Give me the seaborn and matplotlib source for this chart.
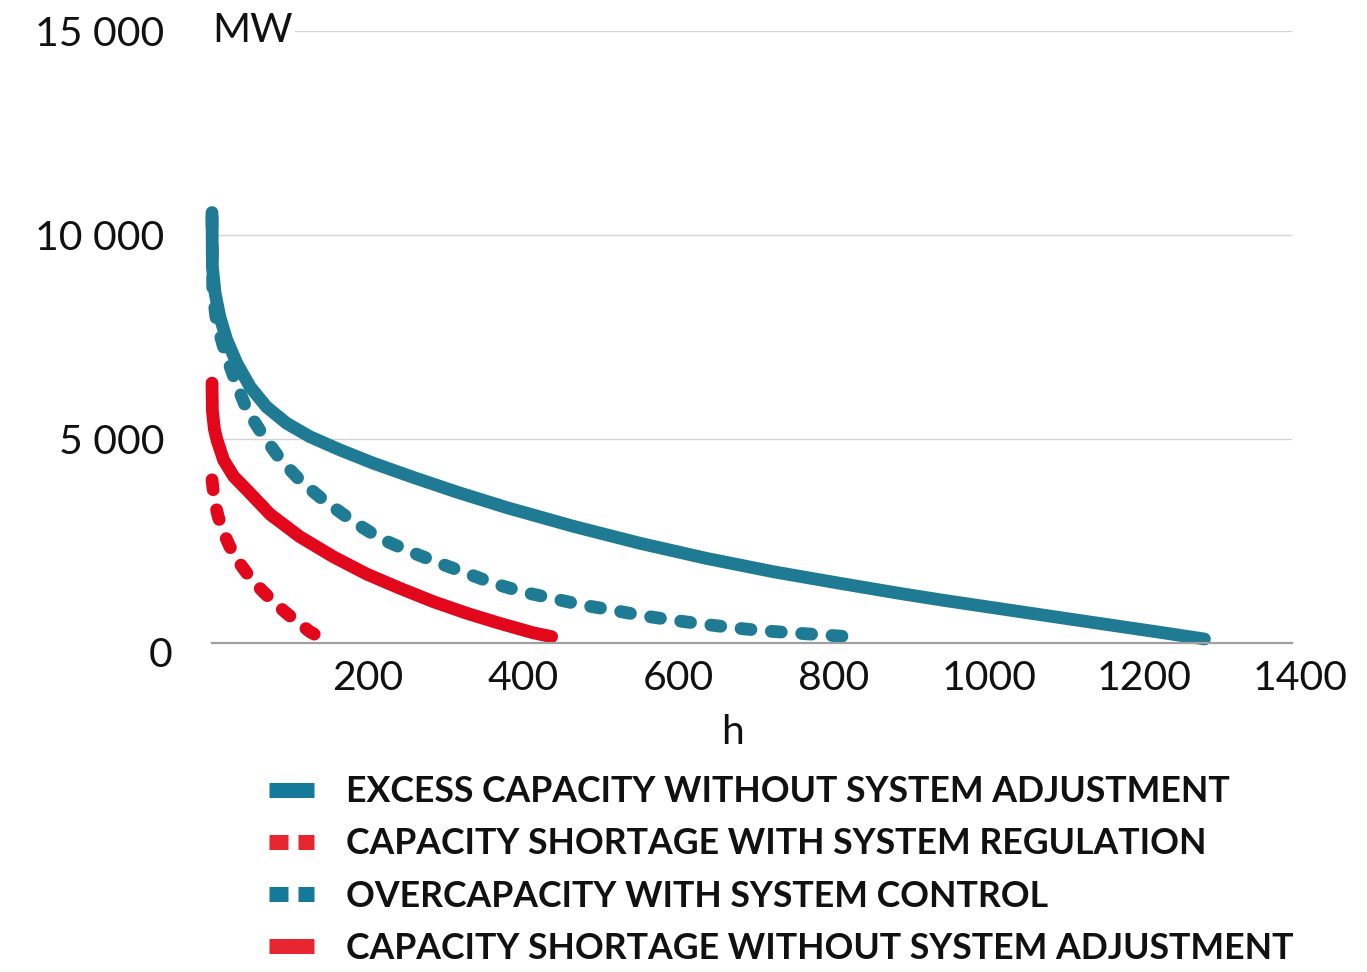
import numpy as np
import pandas as pd
import seaborn as sns
import matplotlib
matplotlib.use("Agg")
import matplotlib.pyplot as plt
from matplotlib.lines import Line2D
from matplotlib.transforms import ScaledTranslation

# Duration curves: hours per year vs. capacity (MW)
excess_no_adj_h = [0, 0.5, 4, 10, 19, 32, 49, 70, 96, 126, 165, 208, 259, 315, 379,
                   465, 551, 636, 722, 808, 885, 940, 1000, 1078, 1142, 1210, 1277]
excess_no_adj_mw = [10550, 9220, 8570, 8000, 7430, 6855, 6280, 5790, 5385, 5056, 4730,
                    4404, 4060, 3700, 3320, 2860, 2443, 2075, 1748, 1463, 1215, 1050,
                    880, 660, 480, 290, 98]

shortage_reg_h = [0, 3, 8, 15, 23, 33, 45, 56, 68, 82, 96, 111, 126, 135]
shortage_reg_mw = [4000, 3500, 3096, 2700, 2360, 2020, 1708, 1450, 1218, 960, 728,
                   500, 277, 180]

over_ctrl_h = [0, 1, 6, 17, 30, 45, 66, 88, 115, 145, 182, 216, 255, 293, 328, 362,
               400, 439, 477, 516, 554, 593, 631, 670, 709, 750, 788, 835]
over_ctrl_mw = [10450, 8600, 7850, 7110, 6420, 5710, 5080, 4500, 3950, 3480, 2974,
                2566, 2238, 1953, 1708, 1463, 1250, 1090, 930, 805, 670, 560, 465,
                375, 300, 245, 196, 135]

shortage_no_adj_h = [0, 0.5, 3, 6.4, 15, 28, 45, 75, 113, 156, 199, 242, 285, 328,
                     370, 413, 437]
shortage_no_adj_mw = [6370, 5700, 5250, 4975, 4480, 4080, 3750, 3150, 2605, 2115,
                      1690, 1340, 1012, 728, 483, 252, 155]

series_labels = [
    "EXCESS CAPACITY WITHOUT SYSTEM ADJUSTMENT",
    "CAPACITY SHORTAGE WITH SYSTEM REGULATION",
    "OVERCAPACITY WITH SYSTEM CONTROL",
    "CAPACITY SHORTAGE WITHOUT SYSTEM ADJUSTMENT",
]
x_ticks = [200, 400, 600, 800, 1000, 1200, 1400]
y_ticks = [0, 5000, 10000, 15000]
y_tick_labels = ["0", "5 000", "10 000", "15 000"]

TEAL = "#1f7a93"
RED = "#e2071a"
TEAL_KEY = "#15799a"
RED_KEY = "#e8262f"

sns.set_theme(style="white")
plt.rcParams["font.family"] = ["Lato", "DejaVu Sans"]

DPI = 100
fig = plt.figure(figsize=(1367 / DPI, 972 / DPI), dpi=DPI)
ax = fig.add_axes([212 / 1367, 1 - 643 / 972, (1300 - 212) / 1367, (643 - 31) / 972])

LW = 9.2  # pt
frames = [
    (excess_no_adj_h, excess_no_adj_mw, TEAL, "solid"),
    (over_ctrl_h, over_ctrl_mw, TEAL, "dashed"),
    (shortage_no_adj_h, shortage_no_adj_mw, RED, "solid"),
    (shortage_reg_h, shortage_reg_mw, RED, "dashed"),
]
for h, mw, color, style in frames:
    df = pd.DataFrame({"h": h, "MW": mw})
    line_ax = sns.lineplot(data=df, x="h", y="MW", ax=ax, color=color, lw=LW,
                           sort=False, estimator=None)
    ln = line_ax.get_lines()[-1]
    ln.set_solid_capstyle("round")
    ln.set_dash_capstyle("round")
    ln.set_solid_joinstyle("round")
    ln.set_dash_joinstyle("round")
    if style == "dashed":
        ln.set_dashes((0.78, 1.6))
    ln.set_clip_on(False)

ax.set_xlim(0, 1400)
ax.set_ylim(0, 15000)

# light horizontal grid, stopping short of the last tick like the baseline
ax.hlines([5000, 10000, 15000], 0, 1390, color="#d4d4d4", lw=1.0, zorder=0)

for side in ["left", "right", "top"]:
    ax.spines[side].set_visible(False)
ax.spines["bottom"].set_color("#a0a0a0")
ax.spines["bottom"].set_linewidth(1.6)
ax.spines["bottom"].set_bounds(0, 1390)

ax.set_xticks(x_ticks)
ax.set_xticklabels([str(t) for t in x_ticks])
ax.set_yticks(y_ticks)
ax.set_yticklabels(y_tick_labels)
ax.tick_params(axis="x", length=0, pad=12.5, labelsize=29.5, labelcolor="#111111")
ax.tick_params(axis="y", length=0, pad=34.5, labelsize=29.5, labelcolor="#111111")
ax.set_xlabel("")
ax.set_ylabel("")

zero_lbl = ax.yaxis.get_major_ticks()[0].label1
zero_lbl.set_transform(zero_lbl.get_transform()
                       + ScaledTranslation(8 / DPI, -9 / DPI, fig.dpi_scale_trans))

ax.text(0, 15000, "MW", ha="left", va="center", fontsize=29.5, color="#111111",
        bbox=dict(facecolor="white", edgecolor="none", pad=2), zorder=5)
fig.text(733 / 1367, 1 - 732 / 972, "h", ha="center", va="center", fontsize=29.5,
         color="#111111")

key_lw = 15 * 72 / DPI
handles = [
    Line2D([], [], color=TEAL_KEY, lw=key_lw, solid_capstyle="butt"),
    Line2D([], [], color=RED_KEY, lw=key_lw, dash_capstyle="butt",
           linestyle=(0, (19 / 15, 10 / 15))),
    Line2D([], [], color=TEAL_KEY, lw=key_lw, dash_capstyle="butt",
           linestyle=(0, (19 / 15, 10 / 15))),
    Line2D([], [], color=RED_KEY, lw=key_lw, solid_capstyle="butt"),
]
fig.legend(handles, series_labels, loc="upper left",
           bbox_to_anchor=(269 / 1367, 1 - 775.0 / 972), frameon=False,
           prop={"family": ["Lato", "DejaVu Sans"], "weight": "bold", "size": 25.7},
           handlelength=1.27, handletextpad=0.88, labelspacing=0.54,
           borderpad=0, borderaxespad=0, labelcolor="#111111")

fig.savefig("out.png", dpi=DPI, facecolor="white")
